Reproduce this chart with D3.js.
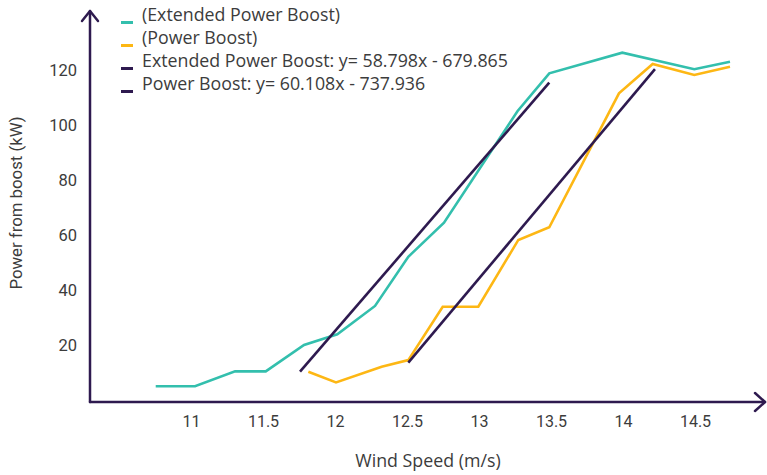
<!DOCTYPE html>
<html>
<head>
<meta charset="utf-8">
<script src="https://cdn.jsdelivr.net/npm/d3@7"></script>
<style>
  html, body { margin: 0; padding: 0; background: #fff; }
  svg { display: block; font-family: Roboto, "Noto Sans", sans-serif; }
</style>
</head>
<body>
<svg id="chart" width="767" height="475"></svg>
<script>
// ---- data ----
const extendedX = [10.755, 11.028, 11.306, 11.519, 11.785, 12.016, 12.278, 12.509, 12.757, 13.267, 13.488, 13.995, 14.495, 14.743];
const extendedY = [5.0, 5.0, 10.4, 10.4, 20.0, 23.9, 34.2, 52.1, 64.5, 105.0, 118.8, 126.3, 120.3, 123.0];
const boostX = [11.815, 12.007, 12.324, 12.509, 12.748, 12.995, 13.273, 13.488, 13.972, 14.206, 14.495, 14.743];
const boostY = [10.3, 6.4, 12.1, 14.5, 33.9, 33.9, 58.2, 62.8, 111.5, 122.2, 118.2, 121.2];
const trendExtX = [11.757, 13.488];
const trendExtY = [10.3, 115.4];
const trendBoostX = [12.509, 14.222];
const trendBoostY = [13.6, 120.3];
const xTicks = [11, 11.5, 12, 12.5, 13, 13.5, 14, 14.5];
const yTicks = [20, 40, 60, 80, 100, 120];
const legendLabels = ["(Extended Power Boost)", "(Power Boost)", "Extended Power Boost: y= 58.798x - 679.865", "Power Boost: y= 60.108x - 737.936"];

const TEAL = "#33bfad", ORANGE = "#fdb714", PURPLE = "#2e1a4f", TEXT = "#3c3c3c";

const svg = d3.select("#chart");
const x = d3.scaleLinear().domain([11, 14.5]).range([191, 695]);
const y = d3.scaleLinear().domain([0, 120]).range([400, 70]);
const axisX0 = 90, axisY0 = 402;

// axes labels
const gx = svg.append("g").attr("transform", `translate(0,${axisY0})`)
  .call(d3.axisBottom(x).tickValues(xTicks).tickSize(0).tickPadding(14).tickFormat(d => String(d)));
gx.select(".domain").remove();
gx.selectAll("text").attr("fill", TEXT).style("font-size", "16px").style("font-family", "Roboto, sans-serif");

const gy = svg.append("g").attr("transform", `translate(${axisX0},0)`)
  .call(d3.axisLeft(y).tickValues(yTicks).tickSize(0).tickPadding(13));
gy.select(".domain").remove();
gy.selectAll("text").attr("fill", TEXT).style("font-size", "16.5px").style("font-family", "Roboto, sans-serif");

// axis lines with arrows
const axisG = svg.append("g").attr("stroke", PURPLE).attr("stroke-width", 2.5).attr("fill", "none")
  .attr("stroke-linecap", "round").attr("stroke-linejoin", "round");
axisG.append("path").attr("d", `M${axisX0},${axisY0} L${axisX0},11`);
axisG.append("path").attr("d", `M${axisX0 - 8},21 L${axisX0},11 L${axisX0 + 8},21`);
axisG.append("path").attr("d", `M${axisX0},${axisY0} L765,${axisY0}`);
axisG.append("path").attr("d", `M755,${axisY0 - 9} L765,${axisY0} L755,${axisY0 + 9}`);

// lines
const line = d3.line().x(d => x(d[0])).y(d => y(d[1]));
function draw(xs, ys, color) {
  svg.append("path").datum(xs.map((v, i) => [v, ys[i]]))
    .attr("d", line).attr("fill", "none").attr("stroke", color)
    .attr("stroke-width", 2.6).attr("stroke-linejoin", "miter");
}
draw(extendedX, extendedY, TEAL);
draw(boostX, boostY, ORANGE);
draw(trendExtX, trendExtY, PURPLE);
draw(trendBoostX, trendBoostY, PURPLE);

// axis titles
svg.append("text").attr("x", 428).attr("y", 462).attr("text-anchor", "middle")
  .attr("dominant-baseline", "middle").attr("fill", TEXT)
  .style("font-family", "'Open Sans', sans-serif").style("font-size", "17.8px")
  .text("Wind Speed (m/s)");
svg.append("text").attr("transform", "translate(18,203) rotate(-90)").attr("text-anchor", "middle")
  .attr("dominant-baseline", "middle").attr("fill", TEXT).style("font-size", "16.8px")
  .text("Power from boost (kW)");

// legend
const legColors = [TEAL, ORANGE, PURPLE, PURPLE];
const leg = svg.append("g");
legendLabels.forEach((t, i) => {
  const yy = 16.5 + i * 23;
  leg.append("line").attr("x1", 121).attr("x2", 133).attr("y1", yy + 6).attr("y2", yy + 6)
    .attr("stroke", legColors[i]).attr("stroke-width", 3);
  leg.append("text").attr("x", 142).attr("y", yy).attr("dominant-baseline", "middle")
    .attr("fill", TEXT).style("font-family", "'Open Sans', sans-serif").style("font-size", "17.8px").text(t);
});
</script>
</body>
</html>
